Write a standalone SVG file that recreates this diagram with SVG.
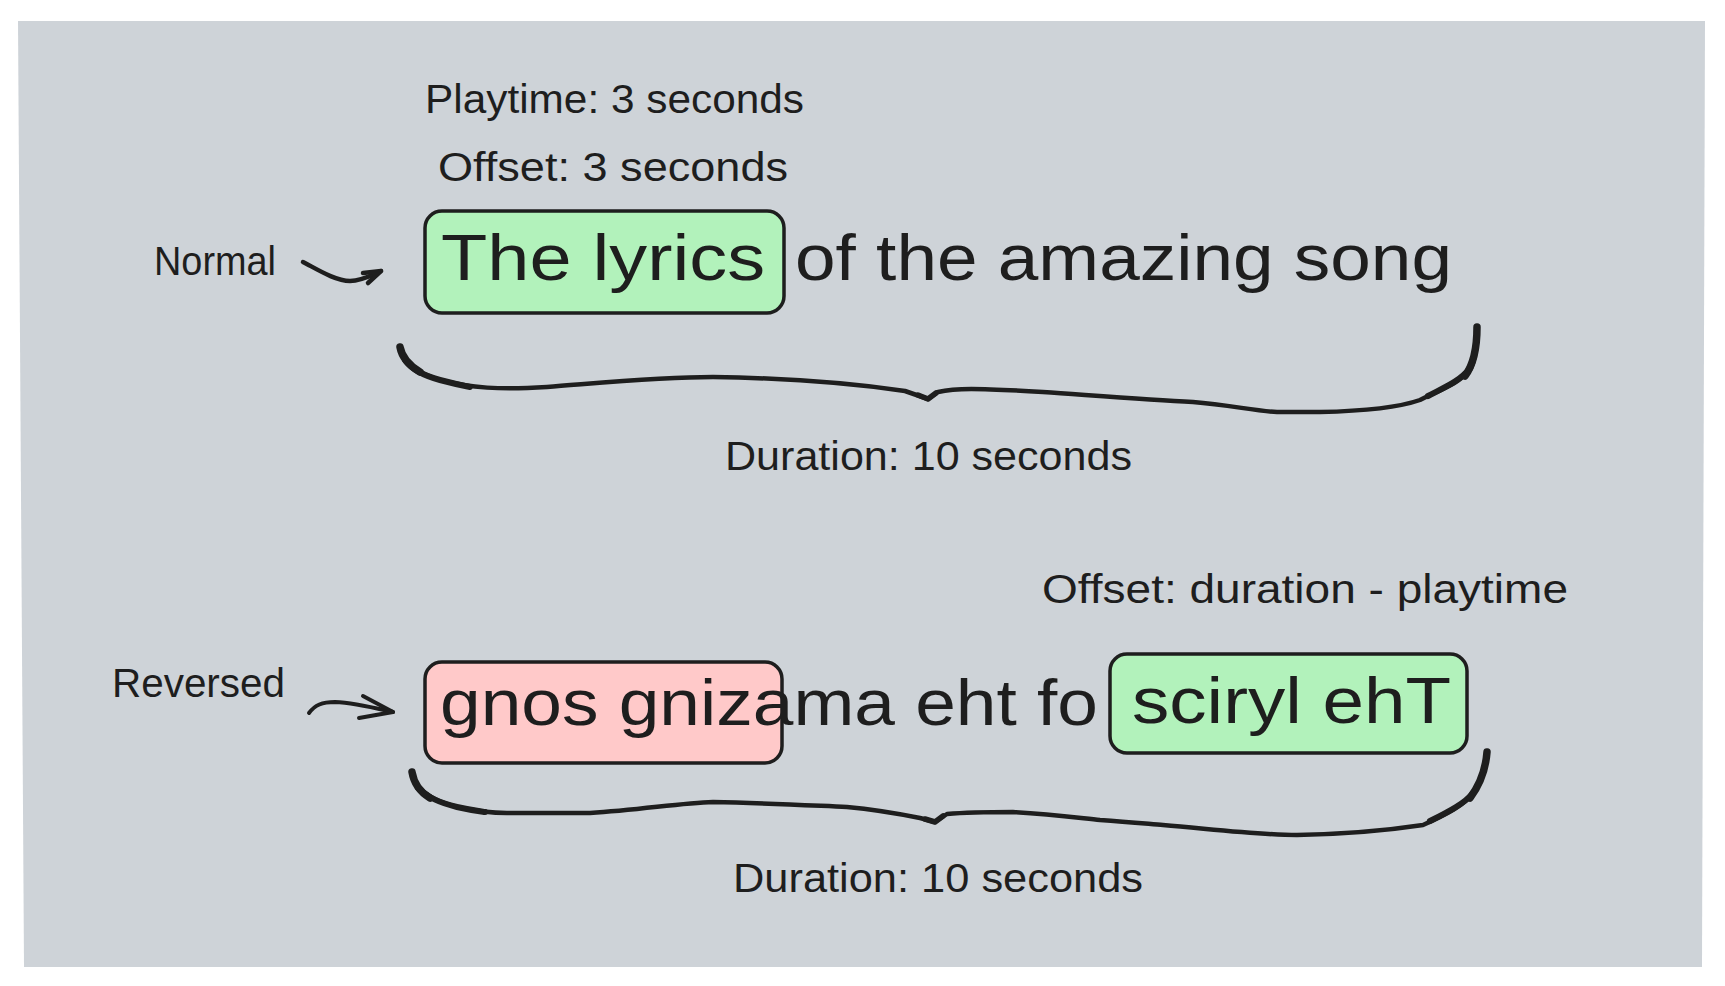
<svg xmlns="http://www.w3.org/2000/svg" width="1725" height="986" viewBox="0 0 1725 986">
  <style>
    .lbl { font-family: "Liberation Sans", Arial, sans-serif; font-size: 40px; fill: #1e1e1e; }
    .big { font-family: "Liberation Sans", Arial, sans-serif; font-size: 64px; fill: #1e1e1e; }
    .box { stroke: #1e1e1e; stroke-width: 3.5; stroke-linejoin: round; }
    .ln { fill: none; stroke: #1e1e1e; stroke-linecap: round; stroke-linejoin: round; }
  </style>
  <rect width="1725" height="986" fill="#ffffff"/>
  <g id="background">
    <path d="M18,21 L1705,21 L1702,967 L24,967 Z" fill="#ced3d8"/>
  </g>

  <g id="box-top-green">
    <rect class="box" x="425" y="211" width="359" height="102" rx="17" fill="#b2f2bb"/>
  </g>
  <g id="box-bottom-pink">
    <rect class="box" x="425" y="662" width="357" height="101" rx="17" fill="#ffc9c9"/>
  </g>
  <g id="box-bottom-green">
    <rect class="box" x="1110" y="654" width="357" height="99" rx="17" fill="#b2f2bb"/>
  </g>

  <g id="label-playtime"><text class="lbl" x="425" y="113" textLength="379" lengthAdjust="spacingAndGlyphs">Playtime: 3 seconds</text></g>
  <g id="label-offset-top"><text class="lbl" x="438" y="181" textLength="350" lengthAdjust="spacingAndGlyphs">Offset: 3 seconds</text></g>
  <g id="label-normal"><text class="lbl" x="154" y="275" textLength="122" lengthAdjust="spacingAndGlyphs">Normal</text></g>
  <g id="text-normal-lyrics">
    <text class="big" x="441" y="280" textLength="324" lengthAdjust="spacingAndGlyphs">The lyrics</text>
    <text class="big" x="795" y="280" textLength="657" lengthAdjust="spacingAndGlyphs">of the amazing song</text>
  </g>
  <g id="label-duration-top"><text class="lbl" x="725" y="470" textLength="407" lengthAdjust="spacingAndGlyphs">Duration: 10 seconds</text></g>
  <g id="label-offset-bottom"><text class="lbl" x="1042" y="603" textLength="526" lengthAdjust="spacingAndGlyphs">Offset: duration - playtime</text></g>
  <g id="label-reversed"><text class="lbl" x="112" y="697" textLength="173" lengthAdjust="spacingAndGlyphs">Reversed</text></g>
  <g id="text-reversed-lyrics">
    <text class="big" x="440" y="725" textLength="658" lengthAdjust="spacingAndGlyphs">gnos gnizama eht fo</text>
    <text class="big" x="1132" y="723" textLength="319" lengthAdjust="spacingAndGlyphs">sciryl ehT</text>
  </g>
  <g id="label-duration-bottom"><text class="lbl" x="733" y="892" textLength="410" lengthAdjust="spacingAndGlyphs">Duration: 10 seconds</text></g>

  <g id="connectors">
    <g id="arrow-normal">
      <path class="ln" stroke-width="4.5" d="M303,262 C315,268 335,281 350,281 C362,281 372,275 381,271"/>
      <path class="ln" stroke-width="4.5" d="M363,273 L381,271 L368,283"/>
    </g>
    <g id="arrow-reversed">
      <path class="ln" stroke-width="4" d="M309,713 C315,705 322,702 335,702 C355,703 375,708 393,712"/>
      <path class="ln" stroke-width="4" d="M363,696 L393,712 L359,718"/>
    </g>
    <g id="brace-top">
      <path class="ln" stroke-width="4.5" d="M400,347 C402,360 415,372 440,380 C470,388 500,390 547,387 C600,383 660,377 713,377 C780,378 850,383 905,391 L928,399 L938,392 C955,388 975,388 1043,392 C1100,396 1150,400 1193,402 C1230,405 1255,411 1277,412 L1320,412 C1370,411 1400,407 1420,400 C1440,390 1460,383 1470,370 C1476,360 1477,345 1477,327"/>
      <path class="ln" stroke-width="7.5" d="M400,347 C402,358 410,366 420,372"/>
      <path class="ln" stroke-width="6" d="M405,360 C412,370 425,376 440,380 C455,384 465,386 470,387"/>
      <path class="ln" stroke-width="5.5" d="M918,395 L928,399 L936,393"/>
      <path class="ln" stroke-width="6" d="M1428,396 C1445,387 1460,381 1470,368"/>
      <path class="ln" stroke-width="7.5" d="M1465,376 C1474,364 1477,345 1477,327"/>
    </g>
    <g id="brace-bottom">
      <path class="ln" stroke-width="4.5" d="M412,772 C415,790 430,800 457,807 C480,812 500,813 507,813 L590,813 C640,810 680,803 713,802 C760,803 800,805 847,807 C880,810 900,814 920,818 L935,822 L947,814 C970,812 990,812 1013,812 C1050,814 1080,818 1100,820 C1130,822 1150,824 1163,825 C1220,830 1260,835 1297,835 C1350,834 1390,830 1423,825 C1445,815 1465,805 1473,793 C1482,780 1486,765 1487,752"/>
      <path class="ln" stroke-width="7.5" d="M412,772 C414,784 420,792 430,798"/>
      <path class="ln" stroke-width="6" d="M418,788 C428,798 440,803 457,807 C470,810 478,811 485,812"/>
      <path class="ln" stroke-width="5.5" d="M925,819 L935,822 L943,816"/>
      <path class="ln" stroke-width="6" d="M1430,821 C1450,811 1465,803 1473,793"/>
      <path class="ln" stroke-width="7.5" d="M1470,798 C1482,782 1486,765 1487,752"/>
    </g>
  </g>
</svg>
